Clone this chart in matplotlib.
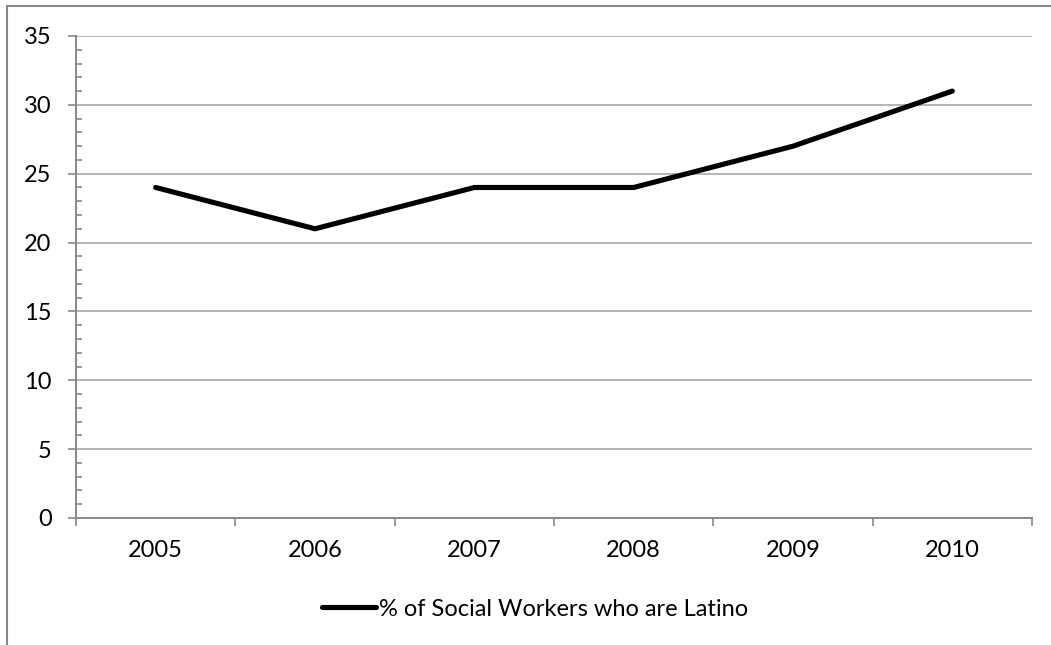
import matplotlib
matplotlib.use('Agg')
import matplotlib.pyplot as plt
from matplotlib.lines import Line2D
from matplotlib.ticker import MultipleLocator, FixedLocator

years = ['2005', '2006', '2007', '2008', '2009', '2010']
latino_pct = [24, 21, 24, 24, 27, 31]
series_name = '% of Social Workers who are Latino'

plt.rcParams['font.family'] = ['Lato', 'DejaVu Sans']
W, H = 1051, 645
fig = plt.figure(figsize=(W / 100, H / 100), dpi=100)

ax = fig.add_axes([76 / W, (H - 518) / H, 956 / W, 482 / H])
gray = '#888888'
fs = 17

x = [i + 0.5 for i in range(len(years))]
line, = ax.plot(x, latino_pct, color='black', lw=3.7, solid_capstyle='round',
                solid_joinstyle='round', label=series_name, zorder=3)

ax.set_xlim(0, len(years))
ax.set_ylim(0, 35)
ax.yaxis.set_major_locator(MultipleLocator(5))
ax.yaxis.set_minor_locator(MultipleLocator(1))
ax.xaxis.set_major_locator(FixedLocator(range(len(years) + 1)))
ax.xaxis.set_minor_locator(FixedLocator(x))
ax.set_xticklabels([])
ax.set_xticklabels(years, minor=True)

ax.tick_params(axis='x', which='major', direction='out', length=5.5, width=1.2, color=gray)
ax.tick_params(axis='x', which='minor', length=0, pad=16, labelsize=fs)
ax.tick_params(axis='y', which='major', direction='out', length=5.5, width=1.2, color=gray,
               labelsize=fs, pad=12)
ax.tick_params(axis='y', which='minor', direction='in', length=4.3, width=1.2, color=gray)

ax.grid(axis='y', which='major', color='#a0a0a0', lw=1.1)
for s in ['top', 'right']:
    ax.spines[s].set_visible(False)
for s in ['left', 'bottom']:
    ax.spines[s].set_color(gray)
    ax.spines[s].set_linewidth(1.4)
    ax.spines[s].set_zorder(4)

fig.legend(handles=[line], loc='center', bbox_to_anchor=(535 / W, (H - 609) / H),
           frameon=False, fontsize=fs, handlelength=2.3, handletextpad=0.1)

# outer chart frame, only the left and top edges remain in view
fig.add_artist(Line2D([7 / W, 7 / W], [0, (H - 6) / H], color=gray, lw=1.5))
fig.add_artist(Line2D([7 / W, 1], [(H - 6) / H, (H - 6) / H], color=gray, lw=1.5))

fig.savefig('out.png', dpi=100)
